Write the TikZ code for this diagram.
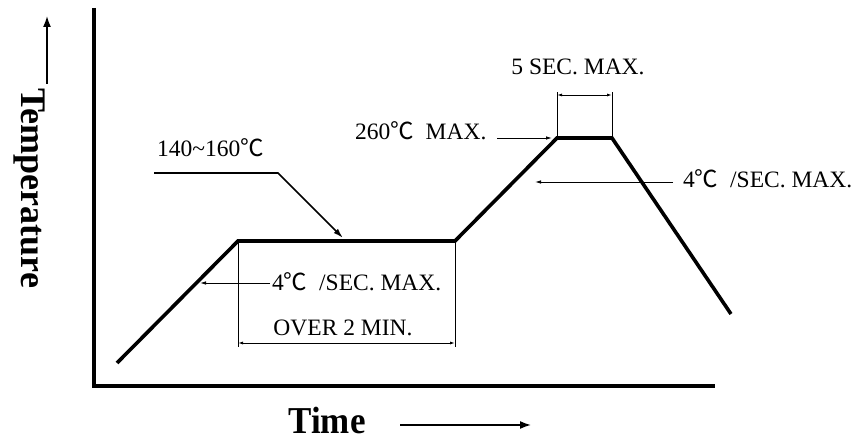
\documentclass[tikz,border=0pt]{standalone}
\usepackage{fontspec}
\usepackage{graphicx}
\setmainfont{Liberation Serif}
\newfontfamily\cjk{Noto Sans CJK SC}
\usetikzlibrary{arrows.meta}
\newcommand{\degC}{{\cjk ℃}}
\begin{document}
\begin{tikzpicture}[x=1pt,y=-1pt,
  axis/.style={line width=3.5pt},
  profile/.style={line width=3.6pt,line join=miter},
  thinline/.style={line width=0.9pt},
  leader/.style={line width=1.6pt},
  lbl/.style={font=\fontsize{23.5}{28}\selectfont,inner sep=0pt},
  big/.style={font=\bfseries\fontsize{36}{40}\selectfont,inner sep=0pt},
  smalltip/.style={-{Latex[length=6pt,width=3.5pt]}},
  dimtip/.style={{Latex[length=5pt,width=3pt]}-{Latex[length=5pt,width=3pt]}},
  bigtip/.style={-{Latex[length=11pt,width=8pt]}}
]
\useasboundingbox (0,0) rectangle (857,443);
% axes
\coordinate (ytop) at (94,8);
\coordinate (orig) at (94,386);
\coordinate (xend) at (715,386);
\draw[axis] (ytop) -- (orig);
\draw[axis] (92,386) -- (xend);
% profile
\coordinate (p0) at (117,363);
\coordinate (p1) at (238,241);
\coordinate (p2) at (455,241);
\coordinate (p3) at (557,138);
\coordinate (p4) at (612,138);
\coordinate (p5) at (731,314);
\draw[profile] (p0) -- (p1) -- (p2) -- (p3) -- (p4) -- (p5);
% OVER 2 MIN dimension
\coordinate (d1b) at (238,347);
\coordinate (d2b) at (455,347);
\draw[thinline] (p1) -- (d1b);
\draw[thinline] (p2) -- (d2b);
\coordinate (d1) at (238,343);
\coordinate (d2) at (455,343);
\draw[thinline,dimtip] (d1) -- (d2);
\node[lbl,anchor=base] (over) at (343,336) {OVER 2 MIN.};
% 5 SEC dimension
\coordinate (e1t) at (557,92);
\coordinate (e2t) at (612,92);
\draw[thinline] (p3) -- (e1t);
\draw[thinline] (p4) -- (e2t);
\coordinate (e1) at (557,95);
\coordinate (e2) at (612,95);
\draw[thinline,dimtip] (e1) -- (e2);
\node[lbl,anchor=base] (five) at (578,75) {5 SEC. MAX.};
% 140~160
\node[lbl,anchor=base west] (t140) at (157,157) {140\textasciitilde160\degC};
\coordinate (l0) at (154,173);
\coordinate (l1) at (278,173);
\coordinate (l2) at (343,238);
\draw[leader,-{Latex[length=10pt,width=6pt]}] (l0) -- (l1) -- (l2);
% left rate
\node[lbl,anchor=base west] (rate1) at (272,291) {4\degC\ \ /SEC. MAX.};
\coordinate (r1a) at (270,283);
\coordinate (r1b) at (200,283);
\draw[thinline,smalltip] (r1a) -- (r1b);
% 260 MAX
\node[lbl,anchor=base west] (peak) at (355,140) {260\degC\ \ MAX.};
\coordinate (pa) at (497,138);
\coordinate (pb) at (552,138);
\draw[thinline,smalltip] (pa) -- (pb);
% right rate
\node[lbl,anchor=base west] (rate2) at (683,188) {4\degC\ \ /SEC. MAX.};
\coordinate (r2a) at (673,182);
\coordinate (r2b) at (535,182);
\draw[thinline,smalltip] (r2a) -- (r2b);
% axis labels
\node[big,rotate=-90] (temp) at (29,188) {Temperature};
\coordinate (ta) at (47,84);
\coordinate (tb) at (47,16);
\draw[line width=1.6pt,bigtip] (ta) -- (tb);
\node[big,anchor=base] (time) at (327,434) {\scalebox{0.92}[1]{\fontsize{38}{42}\selectfont Time}};
\coordinate (ha) at (400,425);
\coordinate (hb) at (531,425);
\draw[line width=1.6pt,bigtip] (ha) -- (hb);
\end{tikzpicture}
\end{document}
